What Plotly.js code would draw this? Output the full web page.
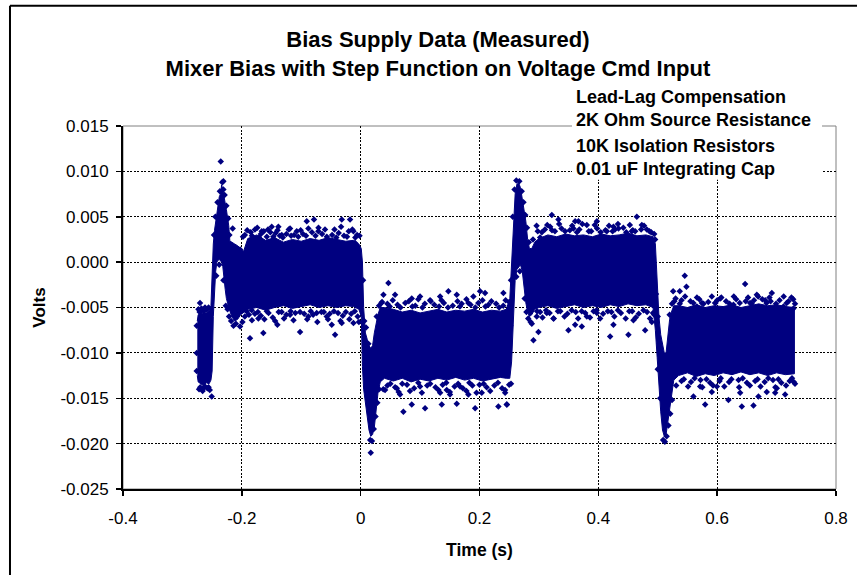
<!DOCTYPE html>
<html><head><meta charset="utf-8">
<script src="https://cdn.plot.ly/plotly-3.0.1.min.js"></script>
<style>html,body{margin:0;padding:0;background:#fff}#chart{width:857px;height:575px}</style>
</head><body><div id="chart"></div>
<script>
// Dense measured band: time (s) with upper / lower extent of the data cloud (V)
const envT = [-0.2750,-0.2735,-0.2700,-0.2650,-0.2600,-0.2550,-0.2520,-0.2500,-0.2480,-0.2460,-0.2440,-0.2420,
  -0.2400,-0.2380,-0.2360,-0.2340,-0.2320,-0.2300,-0.2280,-0.2260,-0.2240,-0.2220,-0.2200,
  -0.2170,-0.2120,-0.2070,-0.2020,-0.1970,-0.1900,-0.1750,-0.1600,-0.1450,-0.1300,-0.1150,-0.1000,
  -0.0850,-0.0700,-0.0550,-0.0400,-0.0250,-0.0120,-0.0030,0.0010,
  0.0030,0.0050,0.0080,0.0110,0.0140,0.0170,0.0200,0.0230,0.0260,0.0290,0.0330,
  0.0400,0.0550,0.0700,0.0850,0.1000,0.1150,0.1300,0.1450,0.1600,0.1750,0.1900,0.2050,0.2200,0.2350,0.2450,
  0.2510,0.2540,0.2570,0.2600,0.2630,0.2660,0.2690,0.2720,0.2750,0.2780,0.2810,0.2840,0.2880,0.2930,
  0.3000,0.3150,0.3300,0.3450,0.3600,0.3750,0.3900,0.4050,0.4200,0.4350,0.4500,0.4650,0.4800,0.4920,
  0.4960,0.4990,0.5020,0.5050,0.5080,0.5110,0.5140,0.5170,0.5200,0.5230,0.5270,
  0.5350,0.5500,0.5650,0.5800,0.5950,0.6100,0.6250,0.6400,0.6550,0.6700,0.6850,0.7000,0.7150,0.7300];
const envHi = [-0.0065,-0.0058,-0.0057,-0.0056,-0.0056,-0.0053,-0.0048,-0.0010,0.0020,0.0035,0.0045,0.0058,
  0.0068,0.0072,0.0075,0.0085,0.0080,0.0070,0.0065,0.0058,0.0050,0.0040,0.0022,
  0.0022,0.0020,0.0018,0.0015,0.0012,0.0026,0.0030,0.0024,0.0027,0.0022,0.0025,0.0023,
  0.0026,0.0024,0.0027,0.0025,0.0023,0.0024,0.0020,0.0015,
  0.0000,-0.0050,-0.0078,-0.0085,-0.0092,-0.0095,-0.0092,-0.0078,-0.0066,-0.0058,-0.0050,
  -0.0050,-0.0052,-0.0055,-0.0053,-0.0056,-0.0054,-0.0052,-0.0055,-0.0053,-0.0054,-0.0052,-0.0055,-0.0053,-0.0054,-0.0052,
  -0.0040,0.0000,0.0040,0.0075,0.0086,0.0087,0.0082,0.0070,0.0058,0.0045,0.0025,0.0015,0.0015,0.0022,
  0.0026,0.0030,0.0028,0.0031,0.0029,0.0030,0.0028,0.0031,0.0029,0.0030,0.0032,0.0029,0.0030,0.0028,
  0.0020,-0.0030,-0.0060,-0.0080,-0.0092,-0.0100,-0.0100,-0.0078,-0.0063,-0.0055,-0.0048,
  -0.0048,-0.0050,-0.0047,-0.0050,-0.0048,-0.0049,-0.0047,-0.0050,-0.0048,-0.0046,-0.0048,-0.0047,-0.0049,-0.0050];
const envLo = [-0.0125,-0.0132,-0.0134,-0.0136,-0.0133,-0.0134,-0.0130,-0.0120,-0.0060,-0.0030,-0.0010,0.0000,
  0.0002,0.0003,0.0002,0.0000,-0.0005,-0.0015,-0.0030,-0.0040,-0.0045,-0.0050,-0.0055,
  -0.0060,-0.0065,-0.0063,-0.0058,-0.0055,-0.0052,-0.0050,-0.0053,-0.0050,-0.0048,-0.0051,-0.0049,
  -0.0047,-0.0050,-0.0048,-0.0050,-0.0048,-0.0049,-0.0052,-0.0060,
  -0.0115,-0.0140,-0.0155,-0.0170,-0.0185,-0.0192,-0.0190,-0.0182,-0.0165,-0.0145,-0.0132,
  -0.0128,-0.0131,-0.0128,-0.0132,-0.0129,-0.0131,-0.0128,-0.0130,-0.0127,-0.0130,-0.0128,-0.0131,-0.0129,-0.0127,-0.0128,
  -0.0128,-0.0110,-0.0060,-0.0020,-0.0008,-0.0005,-0.0003,-0.0010,-0.0025,-0.0045,-0.0055,-0.0060,-0.0058,-0.0052,
  -0.0050,-0.0048,-0.0051,-0.0049,-0.0047,-0.0050,-0.0048,-0.0050,-0.0047,-0.0049,-0.0046,-0.0048,-0.0047,-0.0050,
  -0.0075,-0.0105,-0.0140,-0.0165,-0.0185,-0.0192,-0.0190,-0.0180,-0.0165,-0.0148,-0.0130,
  -0.0125,-0.0122,-0.0126,-0.0123,-0.0125,-0.0122,-0.0124,-0.0121,-0.0124,-0.0122,-0.0125,-0.0122,-0.0124,-0.0123];

// Isolated samples outside the dense band
const outT = [-0.2355,-0.2311,-0.2311,-0.2704,-0.2648,-0.2507,-0.2468,-0.2154,-0.2030,-0.2030,-0.1862,-0.1833,-0.1722,
  -0.1665,-0.1638,-0.1497,-0.1402,-0.1385,-0.1328,-0.1188,-0.1188,-0.1076,-0.1020,-0.0907,-0.0880,-0.0785,-0.0740,
  -0.0712,-0.0571,-0.0487,-0.0431,-0.0318,-0.0318,-0.0178,-0.0122,-0.0122,-0.0094,
  0.0467,0.0383,0.0579,0.0860,0.1000,0.1168,0.1337,0.1476,0.1617,0.1813,0.1897,0.2010,0.2094,0.2402,
  0.0719,0.0860,0.1084,0.1365,0.1504,0.1617,0.1926,0.2318,0.2460,0.0608,0.0663,0.1000,0.1337,0.1449,0.1673,
  0.1813,0.2038,0.2431,0.0170,0.0411,
  0.3217,0.3329,0.3189,0.3609,0.3665,0.3581,0.3806,0.3975,0.4143,0.4254,0.4339,0.4648,0.4732,0.4564,0.4816,
  0.4956,0.3020,0.3076,0.2908,0.2992,0.3497,0.3609,0.3722,0.3244,0.3806,0.3975,0.4198,0.4254,0.4507,0.4591,
  0.4788,0.4900,0.2964,0.3132,0.2460,
  0.5455,0.5483,0.5259,0.5370,0.6471,0.6667,0.6920,0.6808,0.6051,0.5967,0.5743,0.5659,0.6274,0.6555,0.7116,
  0.7284,0.5601,0.5798,0.5910,0.6190,0.6387,0.6415,0.6611,0.6695,0.6835,0.6976,0.7144,0.5714,0.5995,0.7004];
const outV = [0.0111,0.0089,0.0080,-0.0045,-0.0139,-0.0148,0.0030,0.0037,0.0014,-0.0071,-0.0084,-0.0053,-0.0062,
  0.0034,-0.0078,0.0039,-0.0069,0.0039,0.0030,0.0037,-0.0058,0.0034,-0.0077,0.0045,-0.0060,0.0047,-0.0056,
  0.0034,-0.0060,-0.0069,-0.0080,0.0047,-0.0067,0.0047,0.0034,-0.0067,0.0021,
  -0.0023,-0.0036,-0.0036,-0.0040,-0.0038,-0.0042,-0.0038,-0.0032,-0.0036,-0.0045,-0.0038,-0.0032,-0.0034,-0.0034,
  -0.0165,-0.0157,-0.0161,-0.0157,-0.0146,-0.0156,-0.0161,-0.0159,-0.0157,-0.0139,-0.0146,-0.0137,-0.0144,-0.0141,-0.0137,
  -0.0146,-0.0144,-0.0144,-0.0210,-0.0141,
  0.0052,0.0047,0.0039,0.0045,0.0045,0.0037,0.0041,0.0045,0.0034,0.0039,0.0037,0.0050,0.0041,0.0034,0.0036,
  0.0025,0.0027,0.0018,-0.0086,-0.0077,-0.0075,-0.0069,-0.0071,-0.0062,-0.0060,-0.0056,-0.0082,-0.0069,-0.0080,-0.0064,
  -0.0075,-0.0066,-0.0060,-0.0056,-0.0157,
  -0.0015,-0.0027,-0.0032,-0.0032,-0.0024,-0.0036,-0.0034,-0.0042,-0.0040,-0.0045,-0.0045,-0.0049,-0.0047,-0.0045,-0.0049,
  -0.0051,-0.0148,-0.0157,-0.0143,-0.0152,-0.0144,-0.0159,-0.0158,-0.0148,-0.0143,-0.0144,-0.0146,-0.0137,-0.0137,-0.0139];

// Samples along the ragged edges of the band
const edgeT = [-0.195,-0.185,-0.178,-0.168,-0.158,-0.152,-0.143,-0.136,-0.125,-0.112,-0.097,-0.092,-0.082,-0.065,-0.060,-0.048,-0.037,-0.028,-0.020,-0.006,
  -0.195,-0.188,-0.178,-0.168,-0.155,-0.148,-0.133,-0.125,-0.110,-0.095,-0.080,-0.066,-0.052,-0.038,-0.030,-0.016,-0.005,
  0.045,0.062,0.075,0.092,0.108,0.124,0.140,0.155,0.170,0.185,0.198,0.215,0.228,0.240,0.250,
  0.045,0.058,0.078,0.090,0.112,0.126,0.138,0.158,0.172,0.188,0.200,0.212,0.225,0.238,0.250,
  0.298,0.310,0.322,0.338,0.352,0.368,0.384,0.398,0.412,0.428,0.442,0.458,0.472,0.486,
  0.302,0.318,0.332,0.348,0.362,0.378,0.392,0.408,0.422,0.438,0.452,0.468,0.482,0.492,
  0.540,0.555,0.570,0.585,0.600,0.615,0.632,0.648,0.662,0.676,0.690,0.705,0.720,0.728,
  0.540,0.556,0.572,0.588,0.604,0.620,0.636,0.650,0.664,0.680,0.694,0.708,0.722,0.729,
  -0.273,-0.268,-0.262,-0.272,-0.266,-0.258,-0.254];
const edgeV = [0.0030,0.0033,0.0036,0.0031,0.0028,0.0033,0.0032,0.0029,0.0031,0.0030,0.0031,0.0029,0.0033,0.0031,0.0036,0.0030,0.0032,0.0029,0.0034,0.0030,
  -0.0060,-0.0058,-0.0057,-0.0059,-0.0056,-0.0061,-0.0055,-0.0058,-0.0056,-0.0057,-0.0058,-0.0055,-0.0057,-0.0056,-0.0059,-0.0057,-0.0060,
  -0.0046,-0.0047,-0.0045,-0.0048,-0.0046,-0.0047,-0.0045,-0.0048,-0.0046,-0.0047,-0.0045,-0.0047,-0.0046,-0.0048,-0.0044,
  -0.0136,-0.0138,-0.0135,-0.0139,-0.0136,-0.0138,-0.0135,-0.0137,-0.0139,-0.0136,-0.0135,-0.0138,-0.0136,-0.0139,-0.0135,
  0.0034,0.0036,0.0035,0.0037,0.0035,0.0036,0.0034,0.0037,0.0035,0.0036,0.0038,0.0035,0.0036,0.0034,
  -0.0055,-0.0056,-0.0054,-0.0057,-0.0055,-0.0056,-0.0054,-0.0057,-0.0055,-0.0056,-0.0054,-0.0057,-0.0055,-0.0056,
  -0.0042,-0.0043,-0.0041,-0.0044,-0.0042,-0.0043,-0.0041,-0.0043,-0.0042,-0.0041,-0.0043,-0.0042,-0.0043,-0.0041,
  -0.0131,-0.0132,-0.0130,-0.0133,-0.0131,-0.0132,-0.0130,-0.0133,-0.0131,-0.0132,-0.0130,-0.0133,-0.0131,-0.0132,
  -0.0052,-0.0051,-0.0050,-0.0140,-0.0142,-0.0139,-0.0141];

// More samples in the ragged fringe, plus the transients
const fringeT = [-0.198,-0.191,-0.183,-0.174,-0.171,-0.163,-0.156,-0.147,-0.140,-0.131,-0.121,-0.117,-0.105,-0.101,-0.088,-0.076,-0.071,-0.057,-0.044,-0.041,-0.033,-0.023,-0.014,-0.009,-0.002,
  -0.199,-0.192,-0.183,-0.173,-0.162,-0.158,-0.144,-0.138,-0.129,-0.118,-0.113,-0.102,-0.090,-0.084,-0.073,-0.062,-0.055,-0.045,-0.034,-0.025,-0.019,-0.010,-0.003,
  0.036,0.049,0.054,0.067,0.081,0.087,0.097,0.104,0.118,0.132,0.136,0.147,0.163,0.167,0.178,0.193,0.205,0.210,0.220,0.233,0.244,
  0.038,0.050,0.064,0.070,0.083,0.097,0.103,0.117,0.131,0.144,0.150,0.164,0.178,0.183,0.195,0.207,0.218,0.231,0.243,0.253,
  0.290,0.296,0.305,0.314,0.327,0.334,0.344,0.356,0.364,0.373,0.388,0.394,0.404,0.418,0.424,0.433,0.447,0.453,0.462,0.477,0.489,0.494,
  0.288,0.297,0.306,0.312,0.325,0.336,0.343,0.355,0.366,0.372,0.386,0.397,0.403,0.416,0.427,0.433,0.446,0.457,0.463,0.476,0.487,0.494,
  0.530,0.537,0.546,0.560,0.566,0.577,0.591,0.597,0.607,0.621,0.628,0.638,0.652,0.658,0.669,0.683,0.688,0.699,0.712,0.717,0.725,0.731,
  0.531,0.544,0.551,0.562,0.575,0.582,0.593,0.606,0.612,0.624,0.637,0.643,0.655,0.668,0.673,0.686,0.698,0.703,0.716,0.726,0.731,
  -0.276,-0.276,-0.276,-0.271,-0.264,-0.259,-0.256,-0.270,-0.262,-0.256,
  -0.2445,-0.241,-0.237,-0.233,-0.229,-0.226,-0.223,-0.221,-0.219,-0.243,-0.238,-0.231,-0.227,-0.224,-0.2215,-0.218,-0.214,-0.210,
  0.256,0.259,0.262,0.267,0.271,0.274,0.277,0.280,0.283,0.276,0.279,0.282,0.286,0.262,0.268,
  0.004,0.006,0.009,0.013,0.016,0.019,0.022,0.025,0.028,0.031,0.027,0.031,0.035,
  0.497,0.500,0.503,0.506,0.509,0.512,0.515,0.518,0.521,0.524,0.520,0.524,0.528,0.500,0.504,
  0.252,0.250,0.253];
const fringeV = [0.0028,0.0035,0.0029,0.0038,0.0027,0.0034,0.0036,0.0028,0.0035,0.0027,0.0036,0.0029,0.0028,0.0035,0.0037,0.0029,0.0038,0.0028,0.0036,0.0027,0.0039,0.0028,0.0036,0.0027,0.0029,
  -0.0066,-0.0054,-0.0064,-0.0055,-0.0063,-0.0054,-0.0065,-0.0055,-0.0062,-0.0054,-0.0064,-0.0055,-0.0063,-0.0054,-0.0066,-0.0055,-0.0063,-0.0054,-0.0065,-0.0055,-0.0063,-0.0054,-0.0066,
  -0.0044,-0.0049,-0.0042,-0.0050,-0.0043,-0.0049,-0.0041,-0.0050,-0.0043,-0.0049,-0.0042,-0.0050,-0.0043,-0.0049,-0.0041,-0.0050,-0.0042,-0.0049,-0.0043,-0.0050,-0.0042,
  -0.0140,-0.0134,-0.0143,-0.0134,-0.0142,-0.0133,-0.0144,-0.0134,-0.0141,-0.0133,-0.0143,-0.0134,-0.0142,-0.0133,-0.0144,-0.0134,-0.0142,-0.0133,-0.0141,-0.0134,
  0.0025,0.0040,0.0033,0.0041,0.0034,0.0042,0.0034,0.0040,0.0033,0.0042,0.0034,0.0041,0.0033,0.0040,0.0034,0.0042,0.0033,0.0041,0.0034,0.0040,0.0033,0.0031,
  -0.0068,-0.0054,-0.0061,-0.0053,-0.0062,-0.0054,-0.0060,-0.0053,-0.0062,-0.0054,-0.0061,-0.0053,-0.0062,-0.0054,-0.0060,-0.0053,-0.0062,-0.0054,-0.0061,-0.0053,-0.0062,-0.0058,
  -0.0040,-0.0046,-0.0038,-0.0045,-0.0039,-0.0046,-0.0038,-0.0045,-0.0039,-0.0046,-0.0038,-0.0045,-0.0039,-0.0046,-0.0038,-0.0045,-0.0039,-0.0046,-0.0038,-0.0045,-0.0039,-0.0046,
  -0.0136,-0.0129,-0.0137,-0.0128,-0.0138,-0.0129,-0.0136,-0.0128,-0.0137,-0.0129,-0.0138,-0.0128,-0.0136,-0.0129,-0.0137,-0.0128,-0.0138,-0.0129,-0.0136,-0.0128,-0.0134,
  -0.0070,-0.0100,-0.0120,-0.0055,-0.0054,-0.0052,-0.0050,-0.0138,-0.0137,-0.0138,
  0.0050,0.0066,0.0078,0.0088,0.0074,0.0062,0.0048,0.0030,0.0020,-0.0015,-0.0003,-0.0020,-0.0048,-0.0052,-0.0060,-0.0065,-0.0070,-0.0068,
  0.0050,0.0080,0.0090,0.0089,0.0078,0.0066,0.0052,0.0038,0.0022,-0.0040,-0.0055,-0.0062,-0.0066,-0.0016,-0.0010,
  -0.0020,-0.0065,-0.0072,-0.0090,-0.0196,-0.0197,-0.0184,-0.0170,-0.0155,-0.0140,-0.0060,-0.0048,-0.0045,
  -0.0035,-0.0060,-0.0090,-0.0110,-0.0196,-0.0198,-0.0192,-0.0180,-0.0167,-0.0152,-0.0058,-0.0046,-0.0043,-0.0118,-0.0150,
  -0.0070,-0.0100,-0.0020];

const xTickVals = [-0.4,-0.2,0,0.2,0.4,0.6,0.8];
const xTickText = ['-0.4','-0.2','0','0.2','0.4','0.6','0.8'];
const yTickVals = [0.015,0.010,0.005,0,-0.005,-0.010,-0.015,-0.020,-0.025];
const yTickText = ['0.015','0.010','0.005','0.000','-0.005','-0.010','-0.015','-0.020','-0.025'];
const titleLines = ['Bias Supply Data (Measured)','Mixer Bias with Step Function on Voltage Cmd Input'];
const noteLines = ['Lead-Lag Compensation','2K Ohm Source Resistance','10K Isolation Resistors','0.01 uF Integrating Cap'];
const noteRowY = [1.0799, 1.0152, 0.9449, 0.8815];

const NAVY = '#000080';
const FONT = 'Liberation Sans, Arial, Helvetica, sans-serif';

const polyX = envT.concat(envT.slice().reverse());
const polyY = envHi.concat(envLo.slice().reverse());
const dotStyle = {symbol:'diamond', size:5, color:NAVY};

const traces = [
  {type:'scatter', mode:'lines', x:polyX, y:polyY, fill:'toself', fillcolor:NAVY,
   line:{color:NAVY, width:1}, hoverinfo:'skip', showlegend:false},
  {type:'scatter', mode:'markers', x:edgeT, y:edgeV, marker:dotStyle, showlegend:false},
  {type:'scatter', mode:'markers', x:fringeT, y:fringeV, marker:dotStyle, showlegend:false},
  {type:'scatter', mode:'markers', x:outT, y:outV, marker:dotStyle, showlegend:false}
];

const gridDash = '2px,1.5px';
const layout = {
  width:857, height:575,
  margin:{l:123, r:21, t:126, b:86, pad:0},
  paper_bgcolor:'#fff', plot_bgcolor:'#fff',
  font:{family:FONT, color:'#000'},
  showlegend:false,
  title:{text:titleLines.join('<br>'), x:0.511, xanchor:'center', xref:'container',
         y:0.918, yanchor:'top', yref:'container',
         font:{family:FONT, size:22, weight:'bold', color:'#000'}},
  xaxis:{range:[-0.4,0.8], tickmode:'array', tickvals:xTickVals, ticktext:xTickText,
    ticks:'outside', ticklen:5, tickwidth:1.5, tickcolor:'#000',
    showline:true, linecolor:'#000', linewidth:2,
    showgrid:true, gridcolor:'#000', gridwidth:1.2, griddash:gridDash, zeroline:false,
    tickfont:{family:FONT, size:17, color:'#000'}, ticklabelstandoff:8,
    title:{text:'Time (s)', standoff:16, font:{family:FONT, size:17.5, weight:'bold', color:'#000'}}},
  yaxis:{range:[-0.025,0.015], tickmode:'array', tickvals:yTickVals, ticktext:yTickText,
    ticks:'outside', ticklen:5, tickwidth:1.5, tickcolor:'#000',
    showline:true, linecolor:'#000', linewidth:2,
    showgrid:true, gridcolor:'#000', gridwidth:1.2, griddash:gridDash, zeroline:false,
    tickfont:{family:FONT, size:17, color:'#000'}, ticklabelstandoff:4,
    title:{text:'Volts', standoff:10, font:{family:FONT, size:17, weight:'bold', color:'#000'}}},
  shapes:[
    {type:'rect', xref:'paper', yref:'paper', x0:0, x1:1, y0:0, y1:1, layer:'below',
     line:{color:'#808080', width:1}},
    {type:'rect', xref:'paper', yref:'paper', x0:0.6297, x1:0.9804, y0:0.8521, y1:1.1164, layer:'above',
     fillcolor:'#fff', line:{width:0}},
    {type:'line', xref:'paper', yref:'paper', x0:-0.1585, x1:1.1, y0:1.3312, y1:1.3312,
     line:{color:'#000', width:2}},
    {type:'line', xref:'paper', yref:'paper', x0:-0.1585, x1:-0.1585, y0:1.3312, y1:-0.26,
     line:{color:'#000', width:2}}
  ],
  annotations: noteLines.map((t, i) => ({
    xref:'paper', yref:'paper', x:0.6325, y:noteRowY[i], xanchor:'left', yanchor:'middle', align:'left',
    showarrow:false, text:t, font:{family:FONT, size:18, weight:'bold', color:'#000'}
  }))
};

Plotly.newPlot('chart', traces, layout, {displayModeBar:false, staticPlot:true});
</script></body></html>
